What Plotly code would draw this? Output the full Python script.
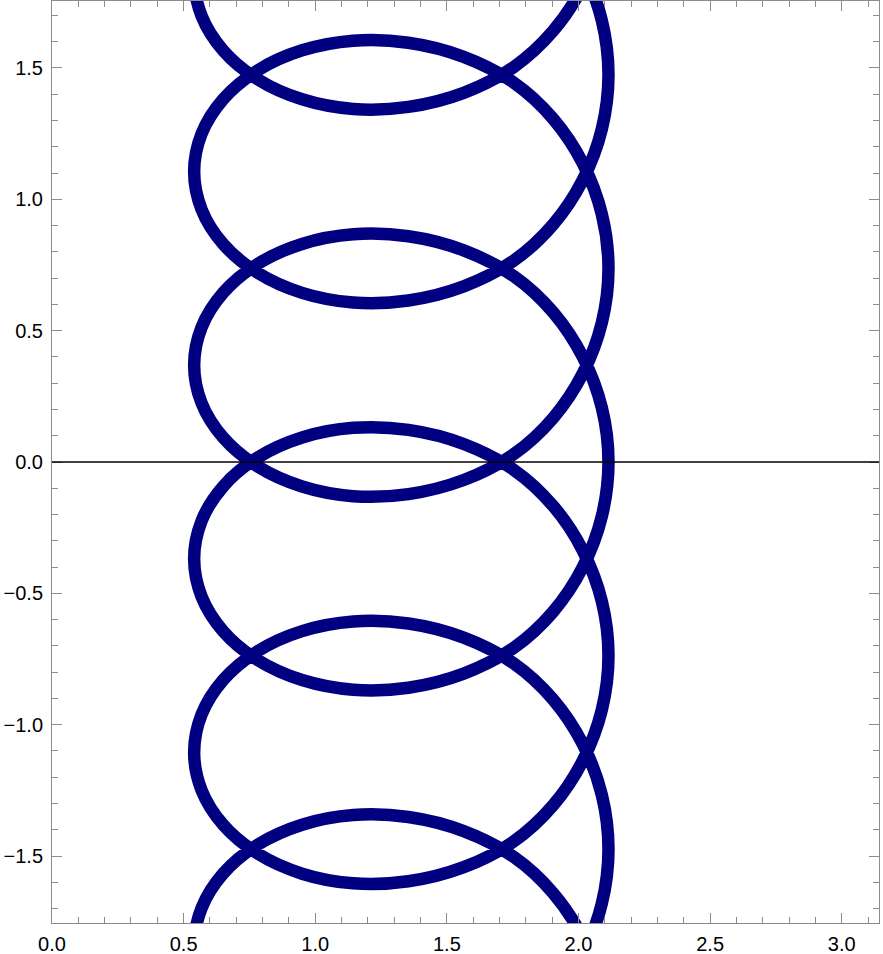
import plotly.graph_objects as go

# One loop of the curve (x, and y relative to the loop's rightmost point)
loop_x = [2.1140, 2.0890, 2.0170, 1.9040, 1.7540, 1.5640, 1.3540, 1.1440, 0.9500, 0.7810,
          0.6506, 0.5682, 0.5400, 0.5682, 0.6506, 0.7810, 0.9500, 1.1440, 1.3540, 1.5640,
          1.7540, 1.9040, 2.0170, 2.0890]
loop_dy = [0.0000, 0.2054, 0.3989, 0.5694, 0.7074, 0.8056, 0.8593, 0.8670, 0.8302, 0.7537,
           0.6446, 0.5125, 0.3685, 0.2245, 0.0924, -0.0167, -0.0932, -0.1300, -0.1222, -0.0685,
           0.0296, 0.1676, 0.3381, 0.5316]
# y of the rightmost point of each successive loop
loop_start_y = [-2.211, -1.474, -0.737, 0.0, 0.737, 1.474, 2.211]

x_ticks = [0.0, 0.5, 1.0, 1.5, 2.0, 2.5, 3.0]
y_ticks = [-1.5, -1.0, -0.5, 0.0, 0.5, 1.0, 1.5]
x_range = [0, 3.14159]
y_range = [-1.755, 1.755]

xs, ys = [], []
for base in loop_start_y[:-1]:
    xs += loop_x
    ys += [base + d for d in loop_dy]
xs.append(loop_x[0])
ys.append(loop_start_y[-1])

fig = go.Figure()
fig.add_trace(go.Scatter(
    x=xs, y=ys, mode="lines",
    line=dict(color="rgb(0,0,128)", width=12.5, shape="spline", smoothing=1),
    hoverinfo="skip", showlegend=False,
))

fig.add_shape(type="line", xref="paper", yref="y", x0=0, x1=1, y0=0, y1=0,
              line=dict(color="black", width=1.3), layer="above")

axis_common = dict(
    showgrid=False, zeroline=False, showline=True, linecolor="#8c8c8c", linewidth=1,
    mirror="ticks", ticks="inside", ticklen=10, tickwidth=1, tickcolor="#8c8c8c",
    tickformat=".1f", automargin=False,
    tickfont=dict(family="Liberation Sans, Arial, sans-serif", size=20, color="black"),
    minor=dict(ticks="inside", ticklen=6, tickwidth=1, tickcolor="#8c8c8c", dtick=0.1, tick0=0, showgrid=False),
)

fig.update_xaxes(range=x_range, tickvals=x_ticks, ticklabelstandoff=3, **axis_common)
fig.update_yaxes(range=y_range, tickvals=y_ticks, ticklabelstandoff=4, **axis_common)

fig.update_layout(
    width=883, height=954,
    margin=dict(l=52, r=4, t=1, b=31),
    plot_bgcolor="white", paper_bgcolor="white",
    showlegend=False,
)

fig.write_html("out.html", config={"displayModeBar": False},
               post_script="document.body.style.margin='0';document.body.style.overflow='hidden';")
